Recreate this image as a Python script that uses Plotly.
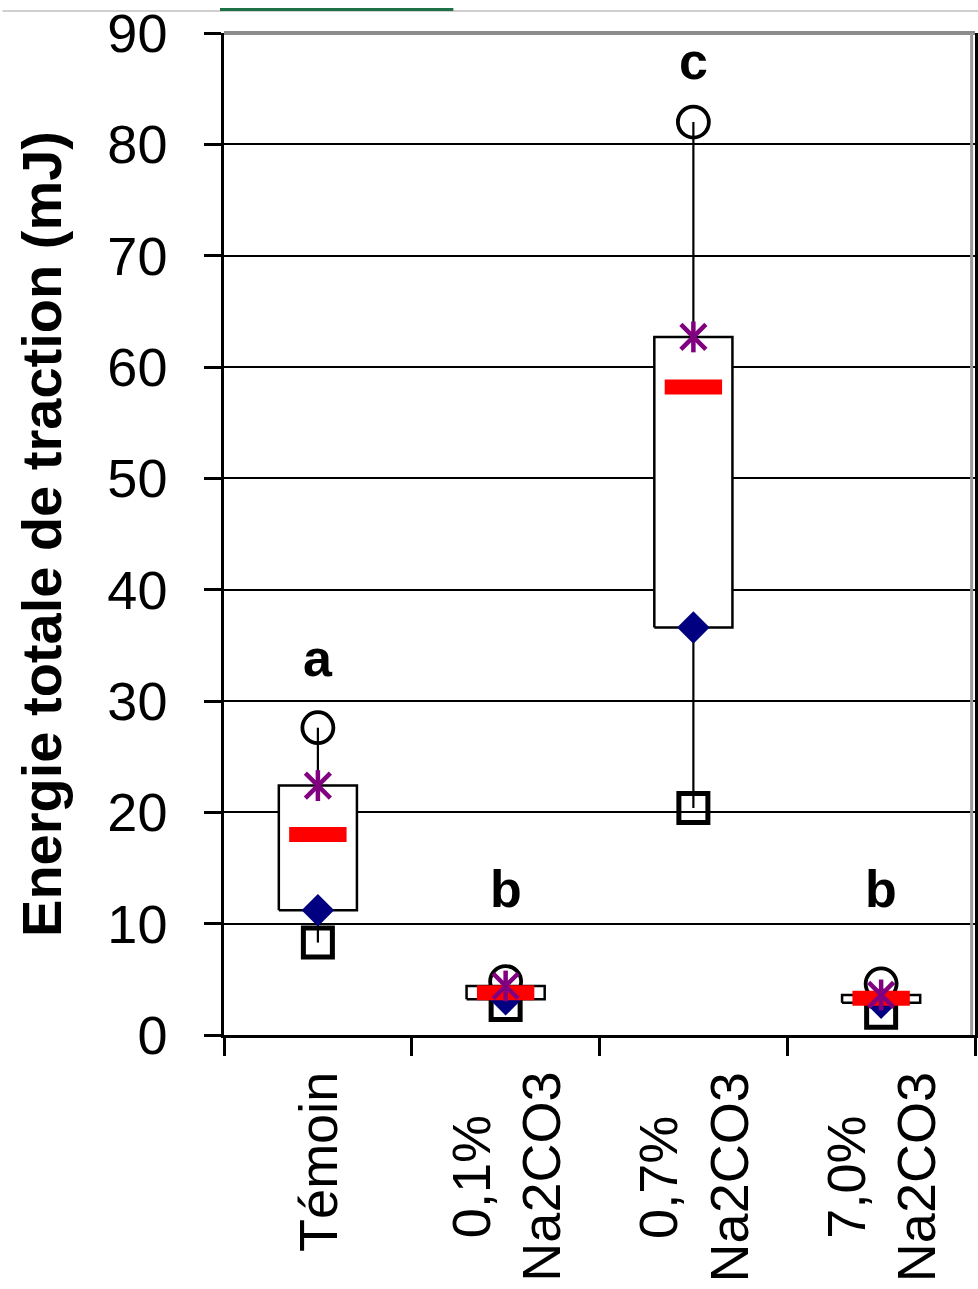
import plotly.graph_objects as go

# ---- data ----
categories = ["Témoin", "0,1%<br>Na2CO3", "0,7%<br>Na2CO3", "7,0%<br>Na2CO3"]
min_vals = [8.3, 2.7, 20.4, 2.0]      # open squares
q1_vals = [11.2, 3.2, 36.6, 2.9]      # navy diamonds / box bottom
median_vals = [18.0, 3.8, 58.2, 3.3]  # red dashes
q3_vals = [22.4, 4.4, 62.7, 3.6]      # purple stars / box top
max_vals = [27.6, 4.8, 82.0, 4.6]     # open circles
letters = ["a", "b", "c", "b"]
letter_y = [33.9, 13.1, 87.5, 13.1]
y_ticks = list(range(0, 100, 10))
y_title = "Energie totale de traction (mJ)"

FONT = "Liberation Sans, Arial, sans-serif"
xpos = list(range(len(categories)))
HALF_BOX = 0.208

fig = go.Figure()

# whiskers
wx, wy = [], []
for i, lo, hi in zip(xpos, min_vals, max_vals):
    wx += [i, i, None]
    wy += [lo, hi, None]
fig.add_trace(go.Scatter(x=wx, y=wy, mode="lines",
                         line=dict(color="black", width=2.2), hoverinfo="skip"))

# boxes
bx, by = [], []
for i, a, b in zip(xpos, q1_vals, q3_vals):
    bx += [i - HALF_BOX, i + HALF_BOX, i + HALF_BOX, i - HALF_BOX, i - HALF_BOX, None]
    by += [a, a, b, b, a, None]
fig.add_trace(go.Scatter(x=bx, y=by, mode="lines", fill="toself",
                         fillcolor="white", line=dict(color="black", width=2.5),
                         hoverinfo="skip"))

# min squares
fig.add_trace(go.Scatter(x=xpos, y=min_vals, mode="markers",
                         marker=dict(symbol="square-open", size=29, color="black",
                                     line=dict(width=5, color="black"))))
# max circles
fig.add_trace(go.Scatter(x=xpos, y=max_vals, mode="markers",
                         marker=dict(symbol="circle-open", size=31, color="black",
                                     line=dict(width=3.8, color="black"))))
# q1 diamonds
fig.add_trace(go.Scatter(x=xpos, y=q1_vals, mode="markers",
                         marker=dict(symbol="diamond", size=25, color="#000080",
                                     line=dict(width=0))))
# median red dashes
fig.add_trace(go.Scatter(x=xpos, y=median_vals, mode="markers",
                         marker=dict(symbol="line-ew-open", size=41, color="#FF0000",
                                     line=dict(width=15, color="#FF0000"))))
# q3 stars (vertical bar + X)
fig.add_trace(go.Scatter(x=xpos, y=q3_vals, mode="markers",
                         marker=dict(symbol="line-ns-open", size=22, color="#800080",
                                     line=dict(width=4.5, color="#800080"))))
fig.add_trace(go.Scatter(x=xpos, y=q3_vals, mode="markers",
                         marker=dict(symbol="x-thin-open", size=25, color="#800080",
                                     line=dict(width=4.5, color="#800080"))))

annotations = []
for i, t, ly in zip(xpos, letters, letter_y):
    annotations.append(dict(x=i, y=ly, xref="x", yref="y", text=t, showarrow=False,
                            xanchor="center", yanchor="middle",
                            font=dict(family=FONT, size=52, color="black", weight="bold")))
for i, c in zip(xpos, categories):
    annotations.append(dict(x=i, y=0, xref="x", yref="y", text=c, showarrow=False,
                            textangle=-90, align="center", xanchor="center",
                            yanchor="top", yshift=-35,
                            font=dict(family=FONT, size=54, color="black")))

shapes = [
    # top plot border (gray)
    dict(type="line", xref="paper", yref="paper", x0=0, x1=1, y0=1, y1=1,
         line=dict(color="#8c8c8c", width=4), layer="above"),
    # right border gray inner line
    dict(type="line", xref="paper", yref="paper", x0=0.9955, x1=0.9955, y0=0, y1=1,
         line=dict(color="#9a9a9a", width=3), layer="above"),
    # top strip (window chrome)
    dict(type="line", xref="paper", yref="paper", x0=-0.295, x1=1.004, y0=1.022, y1=1.022,
         line=dict(color="#cfcfcf", width=2)),
    dict(type="line", xref="paper", yref="paper", x0=-0.0053, x1=0.3054, y0=1.0235, y1=1.0235,
         line=dict(color="#1e7145", width=3)),
]

fig.update_layout(
    width=978, height=1289,
    margin=dict(l=224, r=3, t=33, b=254, autoexpand=False),
    paper_bgcolor="white", plot_bgcolor="white",
    showlegend=False, hovermode=False,
    annotations=annotations, shapes=shapes,
    font=dict(family=FONT, color="black"),
)
fig.update_xaxes(range=[-0.5, len(categories) - 0.5],
                 tickvals=[i - 0.5 for i in range(len(categories) + 1)],
                 showticklabels=False, ticks="outside", ticklen=18, tickwidth=2.5,
                 tickcolor="black", showgrid=False, zeroline=False,
                 showline=True, linecolor="black", linewidth=3)
fig.update_yaxes(range=[0, 90], tickvals=y_ticks, ticks="outside", ticklen=17,
                 tickwidth=2.5, tickcolor="black", showgrid=True, gridcolor="black",
                 gridwidth=2, zeroline=False, showline=True, linecolor="black",
                 linewidth=2.5, mirror=True, ticklabelstandoff=26,
                 tickfont=dict(family=FONT, size=54, color="black"),
                 title=dict(text=y_title, standoff=28,
                            font=dict(family=FONT, size=56, color="black", weight="bold")),
                 automargin=False)

fig.write_html("out.html")
